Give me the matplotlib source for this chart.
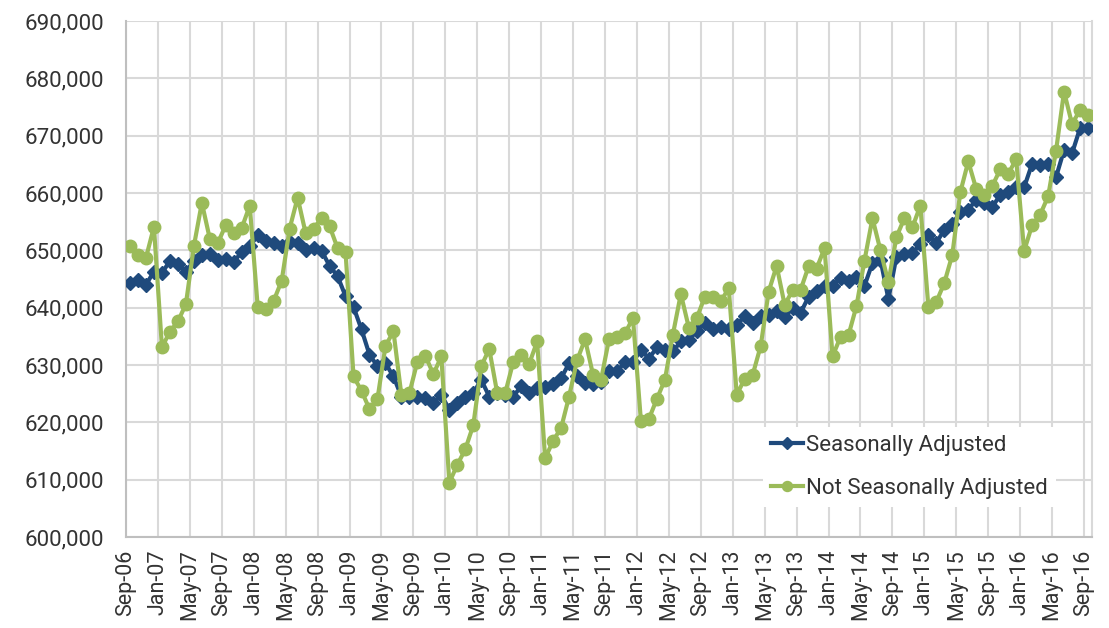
import matplotlib
matplotlib.use("Agg")
import matplotlib.pyplot as plt
from matplotlib.ticker import FuncFormatter, FixedLocator

# Monthly values (thousands), Sep-06 .. Sep-16
seasonally_adjusted = [
    644.3, 644.8, 644.0, 646.3, 646.0, 648.2, 647.7, 646.2, 648.2, 649.1,
    649.4, 648.4, 648.5, 648.0, 649.7, 650.7, 652.6, 651.7, 651.2, 650.7,
    651.5, 651.3, 650.1, 650.4, 649.9, 647.3, 645.5, 642.0, 640.1, 636.2,
    631.8, 629.8, 630.3, 628.0, 624.5, 624.5, 624.5, 624.2, 623.4, 624.8,
    622.2, 623.4, 624.5, 625.1, 627.4, 624.5, 625.1, 624.8, 624.5, 626.3,
    625.1, 626.0, 626.2, 626.6, 627.7, 630.3, 628.0, 626.9, 626.7, 627.0,
    628.9, 628.9, 630.5, 630.5, 632.7, 631.1, 633.1, 632.7, 632.4, 634.1,
    634.4, 635.9, 637.3, 636.3, 636.7, 636.3, 637.0, 638.5, 637.3, 638.5,
    638.8, 639.5, 638.4, 639.9, 639.1, 641.9, 642.9, 643.7, 643.8, 645.2,
    644.6, 645.4, 643.8, 647.8, 648.4, 641.5, 648.9, 649.4, 649.5, 651.1,
    652.7, 651.3, 653.6, 654.6, 656.6, 657.1, 658.8, 658.2, 657.5, 659.7,
    660.1, 661.0, 661.0, 665.1, 664.9, 665.1, 662.8, 667.5, 666.9, 671.3,
    671.3,
]

not_seasonally_adjusted = [
    650.8, 649.2, 648.7, 654.1, 633.1, 635.8, 637.6, 640.6, 650.7, 658.3,
    652.0, 651.3, 654.4, 653.0, 653.9, 657.8, 640.1, 639.8, 641.2, 644.7,
    653.8, 659.2, 653.0, 653.8, 655.6, 654.2, 650.4, 649.7, 628.0, 625.5,
    622.3, 624.1, 633.3, 635.9, 624.7, 625.1, 630.6, 631.6, 628.4, 631.5,
    609.5, 612.6, 615.3, 619.5, 629.8, 632.8, 625.1, 625.1, 630.5, 631.8,
    630.2, 634.1, 613.7, 616.8, 619.0, 624.5, 630.8, 634.5, 628.3, 627.4,
    634.5, 634.8, 635.5, 638.2, 620.2, 620.6, 624.1, 627.4, 635.3, 642.4,
    636.5, 638.2, 641.9, 641.9, 641.1, 643.4, 624.8, 627.6, 628.3, 633.3,
    642.8, 647.3, 640.5, 643.0, 643.1, 647.2, 646.8, 650.4, 631.5, 634.9,
    635.2, 640.3, 648.2, 655.6, 650.0, 644.4, 652.3, 655.6, 654.0, 657.8,
    640.2, 641.0, 644.3, 649.2, 660.1, 665.5, 660.7, 659.7, 661.2, 664.1,
    663.3, 665.9, 649.9, 654.4, 656.2, 659.4, 667.4, 677.7, 672.0, 674.5,
    673.6,
]

tick_labels = [
    "Sep-06", "Jan-07", "May-07", "Sep-07", "Jan-08", "May-08", "Sep-08",
    "Jan-09", "May-09", "Sep-09", "Jan-10", "May-10", "Sep-10", "Jan-11",
    "May-11", "Sep-11", "Jan-12", "May-12", "Sep-12", "Jan-13", "May-13",
    "Sep-13", "Jan-14", "May-14", "Sep-14", "Jan-15", "May-15", "Sep-15",
    "Jan-16", "May-16", "Sep-16",
]

series_labels = ["Seasonally Adjusted", "Not Seasonally Adjusted"]

BLUE = "#1F4A7C"
GREEN = "#9BBB59"
GRID = "#D9D9D9"
TEXT = "#333333"
FONT = ["Roboto", "DejaVu Sans"]

plt.rcParams["font.family"] = FONT

fig = plt.figure(figsize=(11.09, 6.28), dpi=100)
ax = fig.add_axes([126 / 1109, 1 - 537 / 628, (1092 - 126) / 1109, (537 - 21) / 628])

x = list(range(len(seasonally_adjusted)))
sa = [v * 1000 for v in seasonally_adjusted]
nsa = [v * 1000 for v in not_seasonally_adjusted]

ax.plot(x, sa, color=BLUE, lw=3.0, marker="D", ms=7.5, mfc=BLUE, mec=BLUE,
        label=series_labels[0], zorder=3)
ax.plot(x, nsa, color=GREEN, lw=3.0, marker="o", ms=9, mfc=GREEN, mec=GREEN,
        label=series_labels[1], zorder=4)

ax.set_xlim(-0.5, len(x) - 0.5)
ax.set_ylim(600000, 690000)

tick_pos = [i * 4 - 0.5 for i in range(len(tick_labels))]
ax.xaxis.set_major_locator(FixedLocator(tick_pos))
ax.set_xticklabels(tick_labels, rotation=90, fontsize=15.5, color=TEXT)
ax.set_yticks([600000 + 10000 * k for k in range(10)])
ax.yaxis.set_major_formatter(FuncFormatter(lambda v, p: f"{int(v):,}"))
ax.tick_params(axis="y", labelsize=16, labelcolor=TEXT, length=0, pad=16)
ax.tick_params(axis="x", length=0, pad=9)

ax.grid(True, color=GRID, lw=1.5, zorder=0)
ax.set_axisbelow(True)
ax.spines["top"].set_visible(False)
ax.spines["right"].set_color(GRID)
ax.spines["right"].set_linewidth(1.5)
ax.spines["left"].set_color("#BFBFBF")
ax.spines["left"].set_linewidth(1.5)
ax.spines["bottom"].set_color("#BFBFBF")
ax.spines["bottom"].set_linewidth(1.5)

leg = ax.legend(loc="upper left", bbox_to_anchor=(752 / 1109, 1 - 416 / 628),
                bbox_transform=fig.transFigure, frameon=True, fancybox=False,
                edgecolor="none", facecolor="white", framealpha=1,
                fontsize=16, labelspacing=1.0, handlelength=1.45,
                handletextpad=0.15, borderpad=0.35, markerscale=0.8)
for t in leg.get_texts():
    t.set_color(TEXT)

fig.savefig("out.png", dpi=100)
